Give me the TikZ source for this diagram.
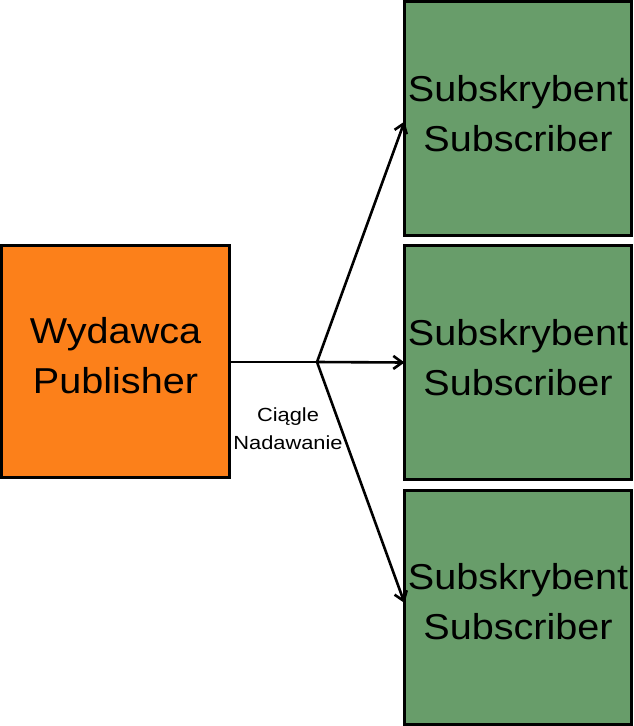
\documentclass[tikz,border=0pt]{standalone}
\usepackage{fontspec}
\setmainfont{Liberation Sans}
\newfontfamily\boxfont[FakeStretch=1.1]{Liberation Sans}
\newfontfamily\lblfont[FakeStretch=1.15]{Liberation Sans}
\usetikzlibrary{arrows.meta,calc}
\definecolor{puborange}{RGB}{252,128,26}
\definecolor{subgreen}{RGB}{104,157,106}
\begin{document}
\begin{tikzpicture}[x=1pt,y=-1pt,
  boxstyle/.style={draw=black,line width=3pt,inner sep=0pt,outer sep=0pt,
    minimum width=227pt,minimum height=234pt},
  boxtext/.style={align=center,inner sep=0pt,yshift=5pt,
    font=\boxfont\fontsize{36}{50}\selectfont},
  pubbox/.style={boxstyle,fill=puborange,minimum width=228pt,minimum height=232pt},
  subbox/.style={boxstyle,fill=subgreen},
  conn/.style={line width=2.6pt,-{Straight Barb[length=9pt,width=13pt,line width=2.6pt]}},
  plain/.style={line width=2.6pt},
  lblstyle/.style={align=center,inner sep=0pt,font=\lblfont\fontsize{19}{28}\selectfont}]
\useasboundingbox (0,0) rectangle (634,726);
\node[pubbox,label={[boxtext]center:Wydawca\\Publisher}] (pub) at (115.5,361) {};
\node[subbox,label={[boxtext]center:Subskrybent\\Subscriber}] (sub1) at (518,118.5) {};
\node[subbox,label={[boxtext]center:Subskrybent\\Subscriber}] (sub2) at (518,362.5) {};
\node[subbox,label={[boxtext]center:Subskrybent\\Subscriber}] (sub3) at (518,607) {};
\coordinate (j) at (317,362);
\draw[plain] (pub.east |- j) -- (j);
\draw[conn] (j) -- ($(sub1.west)+(0,3)$);
\draw[conn] (j) -- (sub2.west);
\draw[conn] (j) -- ($(sub3.west)+(0,-4)$);
\node[lblstyle] (lbl) at (288,429) {Ciągle\\Nadawanie};
\end{tikzpicture}
\end{document}
